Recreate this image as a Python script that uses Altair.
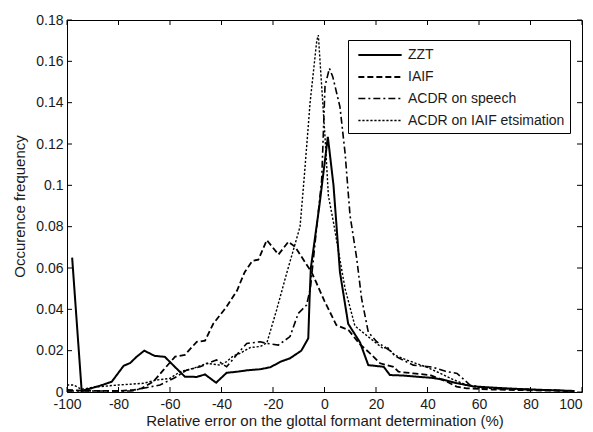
import altair as alt
import pandas as pd

# ---- data ----
zzt_x = [-98, -94.3, -90, -86, -82.6, -78, -75.5, -73, -70, -66, -62, -58, -54.2, -49.6, -46.4,
         -42.1, -38, -34, -30, -25, -21, -17, -13.4, -9, -6.3, -5.8, -5.3, -2, 1.3, 3.5, 6, 9.2,
         13.8, 17, 23, 25.4, 30, 37, 42, 46, 51.3, 57.8, 67, 75, 85, 97]
zzt_y = [0.065, 0.0005, 0.002, 0.0035, 0.005, 0.0127, 0.014, 0.017, 0.020, 0.0175, 0.017, 0.012,
         0.0074, 0.0073, 0.0085, 0.0045, 0.0093, 0.0098, 0.0105, 0.011, 0.012, 0.0147, 0.0163,
         0.020, 0.026, 0.045, 0.060, 0.09, 0.1235, 0.10, 0.058, 0.033, 0.024, 0.013, 0.0122,
         0.0082, 0.008, 0.0073, 0.0068, 0.006, 0.0043, 0.0027, 0.002, 0.0015, 0.001, 0.0005]

iaif_x = [-100, -90, -80, -74, -71, -66.5, -62.6, -58, -54.2, -49.6, -46.4, -43.2, -38, -34, -31,
          -28, -25.7, -22.4, -17.9, -14, -11.5, -5, -3.2, 0, 4.6, 9.3, 13.8, 17, 21.6, 26.8, 28.7,
          34.5, 41, 47.5, 51.3, 55.2, 65, 80, 97]
iaif_y = [0.001, 0.0005, 0.0005, 0.001, 0.0018, 0.005, 0.0106, 0.0171, 0.018, 0.0243, 0.0248,
          0.033, 0.0413, 0.049, 0.058, 0.0635, 0.064, 0.0735, 0.0665, 0.0727, 0.0703, 0.058,
          0.053, 0.044, 0.0324, 0.030, 0.0230, 0.0195, 0.0139, 0.0122, 0.0098, 0.009, 0.0082,
          0.005, 0.0026, 0.0018, 0.0012, 0.0008, 0.0005]

sp_x = [-100, -95, -85, -75, -70.4, -63.9, -58, -53.5, -48.3, -45, -41.9, -38, -34.1, -30.2, -25,
        -22.4, -17.9, -13.4, -10.2, -7, -5.5, -3, -1.1, 0.2, 1.9, 3.2, 6, 8, 9.9, 12.5, 14.4, 17,
        20.3, 25.4, 28, 34.5, 42, 47, 51.5, 56.5, 62, 70, 85, 97]
sp_y = [0.0005, 0.0005, 0.0005, 0.0005, 0.0018, 0.0034, 0.007, 0.0106, 0.0122, 0.014, 0.0155,
        0.0122, 0.018, 0.0235, 0.0243, 0.0235, 0.0227, 0.0268, 0.038, 0.042, 0.05, 0.08, 0.1026,
        0.148, 0.1566, 0.1526, 0.138, 0.1155, 0.0856, 0.0647, 0.0453, 0.029, 0.0243, 0.020,
        0.017, 0.013, 0.012, 0.010, 0.009, 0.0034, 0.002, 0.0015, 0.001, 0.0005]

ia_x = [-100, -97.5, -94.3, -89.8, -80, -70.4, -65.2, -60, -56.1, -51, -45.7, -40.6, -38, -35.4,
        -32.8, -28.9, -25, -22.4, -18.6, -14.7, -12.1, -9.5, -7.8, -5.6, -3, -2.4, -1.1, 0.2,
        1.5, 3.5, 6, 8, 11.8, 17.7, 22.8, 24.2, 27, 31.9, 39.7, 45, 50, 55, 60, 70, 85, 97]
ia_y = [0.0034, 0.0034, 0.0013, 0.0023, 0.0034, 0.0042, 0.0058, 0.0066, 0.0098, 0.0114, 0.0139,
        0.013, 0.0147, 0.0175, 0.0187, 0.0215, 0.022, 0.0237, 0.0397, 0.0574, 0.0687, 0.080,
        0.105, 0.14, 0.170, 0.1727, 0.148, 0.1235, 0.095, 0.082, 0.064, 0.050, 0.032, 0.026,
        0.021, 0.022, 0.018, 0.0155, 0.012, 0.009, 0.006, 0.0035, 0.002, 0.0015, 0.001, 0.0005]

series_names = ["ZZT", "IAIF", "ACDR on speech", "ACDR on IAIF etsimation"]
x_ticks = [-100, -80, -60, -40, -20, 0, 20, 40, 60, 80, 100]
y_ticks = [0, 0.02, 0.04, 0.06, 0.08, 0.1, 0.12, 0.14, 0.16, 0.18]

rows = []
for name, xs, ys in zip(series_names, [zzt_x, iaif_x, sp_x, ia_x], [zzt_y, iaif_y, sp_y, ia_y]):
    for i, (a, b) in enumerate(zip(xs, ys)):
        rows.append({"series": name, "x": a, "y": b, "order": i})
df = pd.DataFrame(rows)
xt = pd.DataFrame({"v": x_ticks})
yt = pd.DataFrame({"v": y_ticks})

W, H = 515, 372
FONT = "Liberation Sans"
TXT = "#1a1a1a"

xscale = alt.Scale(domain=[-100, 100], nice=False, zero=False)
yscale = alt.Scale(domain=[0, 0.18], nice=False)
ax_x = alt.Axis(values=x_ticks, title="Relative error on the glottal formant determination (%)",
                labelExpr="toString(datum.value)", tickSize=0, labelPadding=5,
                titlePadding=2, grid=False, domain=False, labelFlush=False,
                labelOverlap=False,
                labelAlign={"condition": {"test": "datum.value >= 100", "value": "right"},
                            "value": "center"})
ax_y = alt.Axis(values=y_ticks, title="Occurence frequency",
                labelExpr="toString(datum.value)", tickSize=0, labelPadding=4,
                titlePadding=8, grid=False, domain=False, labelFlush=False,
                labelOverlap=False)

lines = alt.Chart(df).mark_line(color="black", strokeJoin="miter").encode(
    x=alt.X("x:Q", scale=xscale, axis=ax_x),
    y=alt.Y("y:Q", scale=yscale, axis=ax_y),
    order="order:Q",
    strokeDash=alt.StrokeDash("series:N",
                              scale=alt.Scale(domain=series_names,
                                              range=[[1, 0], [6, 3], [7, 3, 2, 3], [2.2, 1.8]]),
                              legend=alt.Legend(title=None, orient="none", legendX=281, legendY=20,
                                                symbolType="M-2.5,0H2.5", symbolSize=300,
                                                symbolOffset=17, symbolStrokeWidth=1.8,
                                                symbolStrokeColor="black",
                                                labelFontSize=14, labelFont=FONT, labelColor=TXT,
                                                labelExpr="datum.label + '   '",
                                                fillColor="white", strokeColor="black",
                                                padding=5, rowPadding=5, labelOffset=18,
                                                labelLimit=400)),
    strokeWidth=alt.StrokeWidth("series:N",
                                scale=alt.Scale(domain=series_names, range=[2.0, 1.4, 1.8, 2.3]),
                                legend=None),
)

left_ticks = alt.Chart(yt).mark_rule(color="black", strokeWidth=1).encode(
    y=alt.Y("v:Q", scale=yscale, axis=ax_y), x=alt.value(0), x2=alt.value(5))
right_ticks = alt.Chart(yt).mark_rule(color="black", strokeWidth=1).encode(
    y=alt.Y("v:Q", scale=yscale, axis=ax_y), x=alt.value(W - 5), x2=alt.value(W))
bottom_ticks = alt.Chart(xt).mark_rule(color="black", strokeWidth=1).encode(
    x=alt.X("v:Q", scale=xscale, axis=ax_x), y=alt.value(H - 5), y2=alt.value(H))
top_ticks = alt.Chart(xt).mark_rule(color="black", strokeWidth=1).encode(
    x=alt.X("v:Q", scale=xscale, axis=ax_x), y=alt.value(0), y2=alt.value(5))

chart = alt.layer(lines, left_ticks, right_ticks, bottom_ticks, top_ticks).properties(
    width=W, height=H,
    autosize=alt.AutoSizeParams(type="none"),
    padding={"left": 59, "top": 12, "right": 3, "bottom": 40},
    background="white",
).configure_view(stroke="black", strokeWidth=1).configure_axis(
    labelFont=FONT, titleFont=FONT, labelFontSize=14, titleFontSize=15,
    labelColor=TXT, titleColor=TXT, titleFontWeight="normal",
)

chart.save("out.html", embed_options={"renderer": "svg", "actions": False})
